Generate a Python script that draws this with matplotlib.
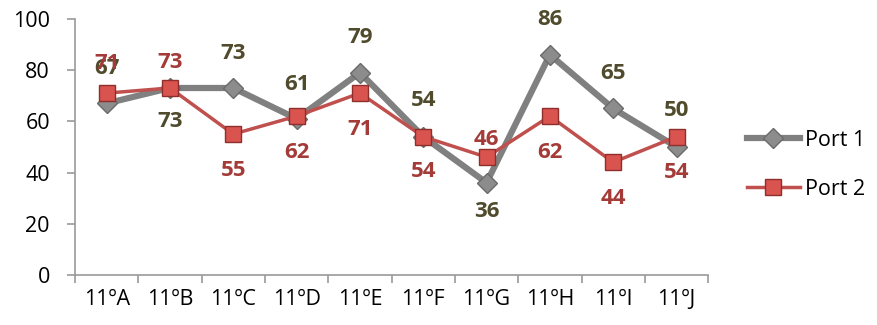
import matplotlib.pyplot as plt

classes = ["11ºA", "11ºB", "11ºC", "11ºD", "11ºE", "11ºF", "11ºG", "11ºH", "11ºI", "11ºJ"]
port1 = [67, 73, 73, 61, 79, 54, 36, 86, 65, 50]
port2 = [71, 73, 55, 62, 71, 54, 46, 62, 44, 54]

# data label offsets in points (positive = above the marker)
off1 = [25, -24, 25, 25, 25, 26, -21, 25, 25, 26]
off2 = [21, 18, -26, -26, -26, -25, 13, -26, -26, -26]

plt.rcParams['font.family'] = ['Open Sans', 'DejaVu Sans']

fig = plt.figure(figsize=(8.77, 3.25), dpi=100)
ax = fig.add_axes([0.0855, 0.154, 0.722, 0.788])

x = list(range(len(classes)))
ax.plot(x, port1, color='#808080', lw=4.5, marker='D', ms=10,
        mfc='#8c8c8c', mec='#6a6a6a', mew=1, label='Port 1', zorder=3)
ax.plot(x, port2, color='#c0504d', lw=2.5, marker='s', ms=12,
        mfc='#d9534f', mec='#8e2f2c', mew=1, label='Port 2', zorder=4)

for xi, v, o in zip(x, port1, off1):
    ax.annotate(str(v), (xi, v), xytext=(0, o), textcoords='offset points',
                ha='center', va='center', fontsize=16, fontweight='bold', color='#4f4b2c')
for xi, v, o in zip(x, port2, off2):
    ax.annotate(str(v), (xi, v), xytext=(0, o), textcoords='offset points',
                ha='center', va='center', fontsize=16, fontweight='bold', color='#a33b38')

ax.set_xlim(-0.5, len(classes) - 0.5)
ax.set_ylim(0, 100)
ax.set_yticks(range(0, 101, 20))
ax.set_xticks(x)
ax.set_xticklabels(classes)
ax.set_xticks([i - 0.5 for i in range(len(classes) + 1)], minor=True)
ax.tick_params(axis='x', which='major', length=0, pad=10, labelsize=15.5)
ax.tick_params(axis='x', which='minor', length=6, color='#9a9a9a', width=1.2)
ax.tick_params(axis='y', length=6, color='#9a9a9a', width=1.2, labelsize=15.5, pad=12)
for s in ['top', 'right']:
    ax.spines[s].set_visible(False)
for s in ['left', 'bottom']:
    ax.spines[s].set_color('#9a9a9a')
    ax.spines[s].set_linewidth(1.2)

ax.legend(loc='center left', bbox_to_anchor=(1.03, 0.43), frameon=False,
          fontsize=15.5, handlelength=2.5, labelspacing=1.3, handletextpad=0.2)

fig.savefig('out.png')
